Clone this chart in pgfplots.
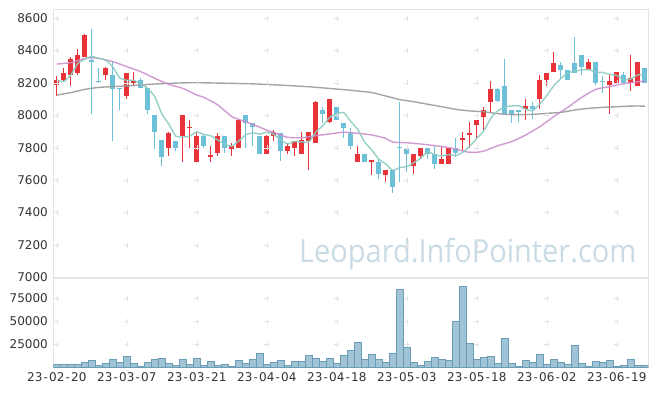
\documentclass[border=0pt]{standalone}
\usepackage{pgfplots}
\pgfplotsset{compat=1.18}
\usepackage{fontspec}
\setmainfont{DejaVu Sans}
\newfontfamily\wmfont{Open Sans}
\definecolor{upc}{HTML}{EA3338}
\definecolor{dnc}{HTML}{6CC1D9}
\definecolor{ma5}{HTML}{8ACBC1}
\definecolor{ma20}{HTML}{CC8FCB}
\definecolor{ma60}{HTML}{9A9A9A}
\definecolor{volf}{HTML}{9BC1D3}
\definecolor{vold}{HTML}{6A9CB5}
\definecolor{axc}{HTML}{E4E4E4}
\definecolor{crossc}{HTML}{E3E3E3}
\definecolor{tickc}{HTML}{333333}
\definecolor{wmc}{HTML}{C9DBE5}
% candle: index, open, high, low, close
\newcommand\cu[5]{%
  \addplot[upc, line width=1pt, forget plot] coordinates {(#1,#4) (#1,#3)};
  \addplot[upc, line width=5pt, forget plot] coordinates {(#1,#2) (#1,#5)};}
\newcommand\cd[5]{%
  \addplot[dnc, line width=1pt, forget plot] coordinates {(#1,#4) (#1,#3)};
  \addplot[dnc, line width=5pt, forget plot] coordinates {(#1,#2) (#1,#5)};}
\pgfplotstableread{
i v
0 3300
1 3300
2 3300
3 3300
4 5500
5 7700
6 2200
7 4400
8 8800
9 5800
10 12000
11 4400
12 1100
13 5500
14 8800
15 9900
16 4400
17 2200
18 8800
19 3300
20 9900
21 2200
22 6600
23 2200
24 3300
25 1100
26 7700
27 4400
28 8800
29 15300
30 3300
31 5500
32 7700
33 2200
34 6600
35 6600
36 13100
37 9900
38 6600
39 9500
40 4400
41 13100
42 18600
43 27400
44 8800
45 14200
46 8800
47 5500
48 15300
49 85400
50 21900
51 5500
52 2200
53 6600
54 11000
55 8800
56 7700
57 50400
58 88700
59 26300
60 8800
61 11000
62 12000
63 4400
64 31800
65 4400
66 1100
67 7700
68 5500
69 14200
70 3300
71 8800
72 5500
73 3300
74 24100
75 4400
76 1100
77 6600
78 5500
79 7700
80 1100
81 2200
82 8800
83 2200
84 2200
}\voltable
\pgfplotstableread{
i m
0 8218
1 8208
2 8249
3 8320
4 8345
5 8362
6 8352
7 8340
8 8298
9 8230
10 8216
11 8216
12 8192
13 8166
14 8114
15 8010
16 7946
17 7872
18 7866
19 7872
20 7898
21 7882
22 7874
23 7848
24 7822
25 7810
26 7842
27 7880
28 7892
29 7884
30 7896
31 7882
32 7848
33 7824
34 7840
35 7836
36 7836
37 7896
38 7936
39 7988
40 8012
41 8016
42 7962
43 7912
44 7834
45 7786
46 7730
47 7700
48 7660
49 7678
50 7684
51 7708
52 7736
53 7776
54 7756
55 7750
56 7758
57 7752
58 7772
59 7810
60 7858
61 7904
62 7982
63 8028
64 8052
65 8058
66 8058
67 8038
68 8028
69 8070
70 8122
71 8182
72 8226
73 8262
74 8272
75 8280
76 8282
77 8266
78 8264
79 8252
80 8246
81 8218
82 8224
83 8250
84 8248
}\maA
\pgfplotstableread{
i m
0 8316
2 8325
4 8351
5 8355
6 8351
8 8331
10 8300
12 8269
14 8228
16 8191
18 8166
20 8125
21 8111
23 8064
25 7992
26 7975
28 7944
30 7909
32 7879
33 7864
35 7862
37 7875
39 7885
41 7896
43 7889
45 7879
47 7858
48 7835
50 7831
52 7823
54 7813
56 7801
58 7780
59 7772
60 7772
61 7780
62 7796
63 7813
65 7838
67 7879
69 7930
71 7992
73 8049
75 8111
77 8160
79 8177
80 8187
82 8201
84 8212
}\maB
\pgfplotstableread{
i m
0 8125
2 8140
4 8160
6 8172
8 8177
10 8181
12 8187
14 8193
16 8197
18 8200
20 8201
24 8198
28 8194
32 8186
36 8176
40 8162
43 8150
45 8140
47 8119
49 8097
51 8084
53 8068
55 8053
57 8037
59 8027
61 8022
62 8016
64 8006
66 8004
68 8006
70 8012
72 8018
74 8033
76 8043
78 8049
80 8053
82 8057
84 8057
}\maC
\begin{document}
\begin{tikzpicture}
\path[use as bounding box] (0,0) rectangle (657pt,-396pt);
\node[font=\wmfont\fontsize{31.8}{34}\selectfont, text=wmc, anchor=base, inner sep=0pt, xscale=0.912] at (467.7pt,-262.7pt) {Leopard.InfoPointer.com};
\begin{axis}[name=price, at={(53.3pt,-277.5pt)}, anchor=south west,
  scale only axis, width=595pt, height=267.6pt,
  xmin=-0.5, xmax=84.5, ymin=7000, ymax=8650, clip=false,
  xtick=\empty, ytick={7000,7200,...,8600},
  yticklabels={7000,7200,7400,7600,7800,8000,8200,8400,8600},
  scaled y ticks=false,
  major tick length=0pt,
  axis line style={draw=axc, line width=0.8pt},
  tick label style={font=\fontsize{12}{14}\selectfont, text=tickc},
  yticklabel style={anchor=east, inner sep=0pt, xshift=-5.3pt}]
\pgfplotsinvokeforeach{7200,7400,...,8600}{
  \addplot[only marks, mark=+, mark size=2.5pt, color=crossc, line width=0.5pt, forget plot] coordinates {(0,#1)(10,#1)(20,#1)(30,#1)(40,#1)(50,#1)(60,#1)(70,#1)(80,#1)};}
\draw[axc, line width=2pt] (axis cs:-0.5,7000) -- (axis cs:84.5,7000);
\cu{0}{8190}{8240}{8120}{8220}
\cu{1}{8220}{8290}{8210}{8260}
\cu{2}{8250}{8360}{8180}{8350}
\cu{3}{8260}{8410}{8250}{8370}
\cu{4}{8360}{8500}{8360}{8495}
\cd{5}{8340}{8530}{8010}{8330}
\cd{6}{8212}{8290}{8200}{8205}
\cu{7}{8250}{8300}{8220}{8290}
\cd{8}{8250}{8330}{7840}{8160}
\cd{9}{8166}{8166}{8030}{8160}
\cu{10}{8120}{8260}{8100}{8260}
\cu{11}{8200}{8270}{8180}{8210}
\cd{12}{8220}{8230}{8170}{8170}
\cd{13}{8170}{8170}{8010}{8030}
\cd{14}{8000}{8000}{7790}{7900}
\cd{15}{7850}{7850}{7690}{7740}
\cu{16}{7800}{7900}{7750}{7890}
\cd{17}{7840}{7840}{7780}{7800}
\cu{18}{7870}{8000}{7710}{8000}
\cu{19}{7920}{7970}{7800}{7930}
\cu{20}{7710}{7900}{7710}{7870}
\cd{21}{7870}{7880}{7800}{7810}
\cu{22}{7740}{7810}{7710}{7755}
\cu{23}{7770}{7890}{7750}{7870}
\cd{24}{7870}{7870}{7770}{7800}
\cu{25}{7790}{7830}{7750}{7810}
\cu{26}{7800}{7980}{7800}{7970}
\cd{27}{8000}{8000}{7800}{7950}
\cd{28}{7950}{7950}{7810}{7930}
\cd{29}{7870}{7870}{7760}{7760}
\cu{30}{7760}{7880}{7760}{7870}
\cu{31}{7870}{7910}{7840}{7900}
\cd{32}{7890}{7890}{7720}{7780}
\cu{33}{7780}{7830}{7760}{7810}
\cu{34}{7800}{7840}{7750}{7840}
\cu{35}{7760}{7900}{7760}{7850}
\cu{36}{7840}{7900}{7660}{7900}
\cu{37}{7830}{8090}{7830}{8080}
\cd{38}{8030}{8050}{7950}{8010}
\cu{39}{7960}{8100}{7950}{8100}
\cd{40}{8050}{8050}{7970}{7970}
\cd{41}{7950}{7950}{7860}{7920}
\cd{42}{7890}{7920}{7790}{7810}
\cu{43}{7710}{7810}{7710}{7760}
\cd{44}{7760}{7760}{7710}{7710}
\cu{45}{7710}{7725}{7630}{7722}
\cd{46}{7710}{7730}{7610}{7640}
\cu{47}{7630}{7660}{7590}{7660}
\cd{48}{7660}{7660}{7520}{7560}
\cd{49}{7806}{8080}{7590}{7800}
\cd{50}{7800}{7800}{7650}{7760}
\cu{51}{7690}{7760}{7640}{7760}
\cu{52}{7750}{7800}{7730}{7800}
\cd{53}{7800}{7800}{7730}{7760}
\cd{54}{7760}{7810}{7670}{7700}
\cu{55}{7700}{7810}{7700}{7730}
\cu{56}{7700}{7800}{7700}{7800}
\cd{57}{7800}{7860}{7740}{7770}
\cu{58}{7850}{7900}{7780}{7860}
\cu{59}{7880}{7960}{7800}{7890}
\cu{60}{7940}{7970}{7860}{7970}
\cu{61}{7990}{8050}{7910}{8030}
\cu{62}{8080}{8210}{8020}{8160}
\cd{63}{8160}{8170}{8080}{8090}
\cd{64}{8180}{8350}{8010}{8010}
\cd{65}{8030}{8030}{7950}{8000}
\cd{66}{8030}{8030}{7960}{8022}
\cu{67}{8040}{8100}{7970}{8060}
\cd{68}{8060}{8080}{7980}{8040}
\cu{69}{8100}{8250}{8040}{8220}
\cu{70}{8220}{8260}{8180}{8260}
\cu{71}{8270}{8390}{8270}{8320}
\cd{72}{8310}{8330}{8230}{8280}
\cd{73}{8280}{8280}{8220}{8220}
\cd{74}{8320}{8480}{8260}{8260}
\cd{75}{8370}{8370}{8250}{8300}
\cu{76}{8280}{8350}{8280}{8330}
\cd{77}{8330}{8330}{8190}{8200}
\cd{78}{8212}{8240}{8140}{8204}
\cu{79}{8190}{8250}{8010}{8210}
\cu{80}{8200}{8270}{8200}{8270}
\cd{81}{8250}{8270}{8200}{8200}
\cu{82}{8200}{8370}{8150}{8230}
\cu{83}{8180}{8330}{8180}{8330}
\cd{84}{8290}{8290}{8200}{8200}
\addplot[ma60, line width=1.4pt, opacity=0.9, smooth, tension=0.4] table[x=i, y=m] {\maC};
\addplot[ma20, line width=1.4pt, opacity=0.9, smooth, tension=0.4] table[x=i, y=m] {\maB};
\addplot[ma5, line width=1.4pt, opacity=0.9, smooth, tension=0.3] table[x=i, y=m] {\maA};
\end{axis}
\begin{axis}[name=vol, at={(53.3pt,-367.5pt)}, anchor=south west,
  scale only axis, width=595pt, height=90pt,
  xmin=-0.5, xmax=84.5, ymin=0, ymax=98000,
  xtick={0,10,...,80},
  xticklabels={23\kern1.2pt-\kern1.2pt02\kern1.2pt-\kern1.2pt20, 23\kern1.2pt-\kern1.2pt03\kern1.2pt-\kern1.2pt07, 23\kern1.2pt-\kern1.2pt03\kern1.2pt-\kern1.2pt21, 23\kern1.2pt-\kern1.2pt04\kern1.2pt-\kern1.2pt04, 23\kern1.2pt-\kern1.2pt04\kern1.2pt-\kern1.2pt18, 23\kern1.2pt-\kern1.2pt05\kern1.2pt-\kern1.2pt03, 23\kern1.2pt-\kern1.2pt05\kern1.2pt-\kern1.2pt18, 23\kern1.2pt-\kern1.2pt06\kern1.2pt-\kern1.2pt02, 23\kern1.2pt-\kern1.2pt06\kern1.2pt-\kern1.2pt19},
  ytick={25000,50000,75000}, yticklabels={25000,50000,75000},
  scaled y ticks=false,
  major tick length=0pt,
  axis line style={draw=axc, line width=0.8pt},
  tick label style={font=\fontsize{12}{14}\selectfont, text=tickc},
  yticklabel style={anchor=east, inner sep=0pt, xshift=-5.3pt},
  xticklabel style={anchor=north, inner sep=0pt, yshift=-5.2pt}]
\pgfplotsinvokeforeach{25000,50000,75000}{
  \addplot[only marks, mark=+, mark size=2.5pt, color=crossc, line width=0.5pt, forget plot] coordinates {(0,#1)(10,#1)(20,#1)(30,#1)(40,#1)(50,#1)(60,#1)(70,#1)(80,#1)};}
\addplot[ybar, bar width=7pt, fill=volf, draw=vold, line width=0.6pt, fill opacity=0.95] table[x=i, y=v] {\voltable};
\end{axis}
\end{tikzpicture}
\end{document}
